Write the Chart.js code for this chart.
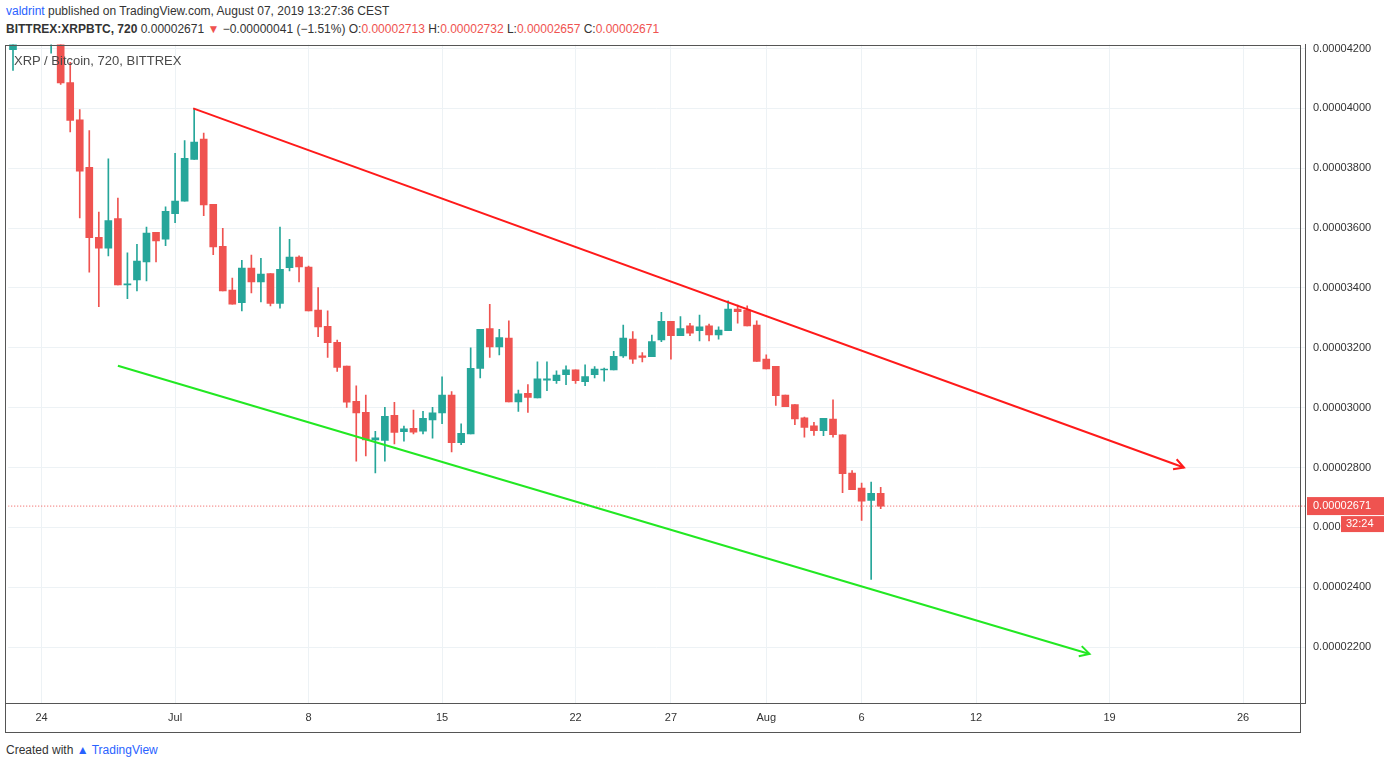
<!DOCTYPE html>
<html><head><meta charset="utf-8">
<script src="https://cdn.jsdelivr.net/npm/chart.js@4/dist/chart.umd.min.js"></script>
<style>
body{margin:0;background:#fff;font-family:'Liberation Sans',Arial,sans-serif;width:1391px;height:768px;position:relative;overflow:hidden}
.t{position:absolute;white-space:nowrap;font-size:12px;color:#333}
#wrap{position:absolute;left:5px;top:30px;width:1381px;height:703px}
</style></head><body>
<div class="t" style="left:6px;top:4px"><span style="color:#2962ff">valdrint</span> published on TradingView.com, August 07, 2019 13:27:36 CEST</div>
<div class="t" style="left:6px;top:22px"><b>BITTREX:XRPBTC, 720</b> 0.00002671 <span style="color:#ef5350">▼</span> −0.00000041 (−1.51%) O:<span style="color:#ef5350">0.00002713</span> H:<span style="color:#ef5350">0.00002732</span> L:<span style="color:#ef5350">0.00002657</span> C:<span style="color:#ef5350">0.00002671</span></div>
<div id="wrap"><canvas id="c"></canvas></div>
<div class="t" style="left:14px;top:53px;font-size:13px;color:#4a4a4a">XRP / Bitcoin, 720, BITTREX</div>
<div class="t" style="left:6px;top:743px">Created with <span style="color:#2962ff">▲ TradingView</span></div>
<script>
// prices in units of 1e-8 BTC; candles every 12h starting Jun 22 12:00
const openP=[4196,4230,4330,4370,4240,4270,4086,3962,3803,3569,3533,3632,3410,3427,3487,3586,3563,3648,3690,3829,3897,3679,3539,3393,3351,3466,3420,3448,3348,3468,3503,3470,3326,3272,3218,3139,3021,2984,2892,2890,2974,2920,2931,2921,2959,2982,3042,2883,2912,3131,3264,3203,3232,3019,3048,3032,3092,3090,3110,3126,3087,3110,3126,3126,3173,3229,3173,3170,3226,3288,3240,3273,3257,3273,3243,3257,3329,3326,3276,3162,3138,3042,3010,2966,2939,2923,2962,2909,2781,2731,2690,2714];
const highP=[4250,4360,4400,4390,4300,4290,4154,3996,3926,3653,3831,3700,3517,3546,3603,3586,3671,3850,3892,3999,3917,3679,3599,3433,3492,3510,3499,3448,3603,3562,3507,3473,3401,3323,3226,3139,3073,3042,2921,3001,3018,2938,2992,2988,3001,3103,3054,2946,3200,3262,3345,3262,3290,3059,3077,3153,3153,3123,3140,3126,3143,3137,3132,3188,3276,3254,3184,3242,3318,3288,3304,3282,3309,3279,3270,3357,3343,3340,3290,3176,3138,3042,3010,2968,2951,2964,3026,2909,2790,2748,2751,2734];
const lowP=[4127,4220,4300,4280,4184,4080,3921,3634,3453,3337,3507,3410,3364,3390,3423,3487,3541,3618,3690,3829,3641,3511,3390,3346,3323,3383,3353,3340,3332,3457,3420,3323,3237,3168,3121,3001,2821,2839,2782,2821,2879,2888,2912,2912,2898,2946,2852,2876,2912,3099,3168,3176,3019,2987,2984,3032,3057,3081,3077,3081,3073,3099,3088,3126,3168,3148,3153,3170,3220,3162,3240,3240,3223,3223,3229,3257,3282,3273,3154,3129,3007,3003,2943,2901,2907,2906,2901,2716,2726,2623,2426,2662];
const closeP=[4230,4330,4370,4240,4270,4085,3960,3790,3568,3533,3625,3410,3414,3490,3583,3557,3656,3690,3833,3887,3677,3537,3390,3346,3466,3420,3446,3348,3462,3503,3470,3323,3270,3217,3134,3018,2982,2892,2899,2971,2917,2929,2918,2964,2983,3042,2883,2914,3131,3262,3203,3234,3019,3046,3034,3096,3096,3109,3126,3090,3104,3129,3129,3171,3232,3162,3168,3221,3288,3240,3264,3249,3270,3243,3259,3329,3321,3273,3154,3129,3040,3003,2962,2934,2923,2964,2910,2779,2726,2687,2714,2671];
const tickDates=['Jun 24 00:00','Jul 1 00:00','Jul 8 00:00','Jul 15 00:00','Jul 22 00:00','Jul 27 00:00','Aug 1 00:00','Aug 6 00:00','Aug 12 00:00','Aug 19 00:00','Aug 26 00:00'];
const tickTexts=['24','Jul','8','15','22','27','Aug','6','12','19','26'];
const priceTicks=[2200,2400,2600,2800,3000,3200,3400,3600,3800,4000,4200];
const lastPrice=2671;
// trend lines: x in half-day slots from Jul 1 00:00
const redLine=[{x:1.9,y:4000},{x:105.8,y:2800}];
const greenLine=[{x:-6.0,y:3140},{x:95.9,y:2177}];

const FIRST=-17, LAST=118;
const labels=[];
const mon=['Jun','Jul','Aug'], mdays=[30,31,31];
for(let k=FIRST;k<=LAST;k++){
  let d=Math.floor(k/2)+1, m=1;
  while(d<1){m--;d+=mdays[m];}
  while(d>mdays[m]){d-=mdays[m];m++;}
  labels.push(mon[m]+' '+d+' '+(k%2===0?'00:00':'12:00'));
}
const tickMap={}; tickDates.forEach((d,i)=>tickMap[d]=tickTexts[i]);
const UP='#26a69a', DN='#ef5350';
const cols=openP.map((o,i)=>closeP[i]>=o?UP:DN);
const wicks=lowP.map((l,i)=>[l,highP[i]]);
const bodies=openP.map((o,i)=>{let a=Math.min(o,closeP[i]),b=Math.max(o,closeP[i]);if(b-a<3){a-=1.5;b+=1.5;}return [a,b];});
const fmt=v=>(v/1e8).toFixed(8);

const deco={id:'deco',
 afterDatasetsDraw(ch){
  const c=ch.ctx;
  const arrow=(idx,col)=>{
    const pts=ch.getDatasetMeta(idx).data; const p=pts[1],q=pts[0];
    const ang=Math.atan2(p.y-q.y,p.x-q.x);
    c.save();c.strokeStyle=col;c.lineWidth=2;c.beginPath();
    c.moveTo(p.x-11*Math.cos(ang-0.5),p.y-11*Math.sin(ang-0.5));c.lineTo(p.x,p.y);
    c.lineTo(p.x-11*Math.cos(ang+0.5),p.y-11*Math.sin(ang+0.5));c.stroke();c.restore();
  };
  arrow(2,'#ff1a1a');arrow(3,'#22e822');
 },
 afterDraw(ch){
  const c=ch.ctx, ca=ch.chartArea, y=ch.scales.y.getPixelForValue(lastPrice);
  c.save();
  c.strokeStyle='#555';c.lineWidth=1;
  c.strokeRect(0.5,Math.round(ca.top)+0.5,ch.width-86,ch.height-Math.round(ca.top)-1);
  c.beginPath();c.moveTo(0,Math.round(ca.bottom)+0.5);c.lineTo(ca.right,Math.round(ca.bottom)+0.5);c.stroke();
  c.fillStyle=DN;c.fillRect(ca.right+2,y-9,ch.width-ca.right-4,18);
  c.fillRect(ch.width-45,y+10,43,16);
  c.fillStyle='#fff';c.font='11px "Liberation Sans",Arial';c.textBaseline='middle';
  c.fillText(fmt(lastPrice),ca.right+8,y);c.fillText('32:24',ch.width-40,y+18);
  c.restore();
 }};

new Chart(document.getElementById('c'),{
 data:{labels,datasets:[
  {type:'bar',data:wicks,backgroundColor:cols,barThickness:1,grouped:false,order:3},
  {type:'bar',data:bodies,backgroundColor:cols,barThickness:7,grouped:false,order:2},
  {type:'line',data:redLine,xAxisID:'x2',borderColor:'#ff1a1a',borderWidth:2,pointRadius:0,order:1},
  {type:'line',data:greenLine,xAxisID:'x2',borderColor:'#22e822',borderWidth:2,pointRadius:0,order:1},
  {type:'line',data:[{x:FIRST-0.5,y:lastPrice},{x:LAST+0.5,y:lastPrice}],xAxisID:'x2',borderColor:DN,borderWidth:1,borderDash:[1,2],pointRadius:0,order:1}
 ]},
 options:{responsive:true,maintainAspectRatio:false,animation:false,
  layout:{padding:0},
  plugins:{legend:{display:false},tooltip:{enabled:false}},
  scales:{
   x:{type:'category',offset:true,
      grid:{offset:false,drawTicks:false,color:ctx=>tickMap[labels[ctx.index]]?'#edf2f5':'rgba(0,0,0,0)'},
      border:{display:false},
      ticks:{autoSkip:false,maxRotation:0,padding:8,color:'#333',font:{size:11,family:'Liberation Sans'},callback:(v,i)=>tickMap[labels[i]]||''},
      afterFit:s=>{s.height=30;}},
   x2:{type:'linear',display:false,min:FIRST-0.5,max:LAST+0.5},
   y:{position:'right',min:2013,max:4213,
      afterBuildTicks:s=>{s.ticks=priceTicks.map(v=>({value:v}));},
      grid:{color:'#edf2f5',drawTicks:false},
      border:{color:'#555'},
      ticks:{padding:8,color:'#333',font:{size:11,family:'Liberation Sans'},callback:v=>fmt(v)},
      afterFit:s=>{s.width=81;}}
  }},
 plugins:[deco]});
</script></body></html>
